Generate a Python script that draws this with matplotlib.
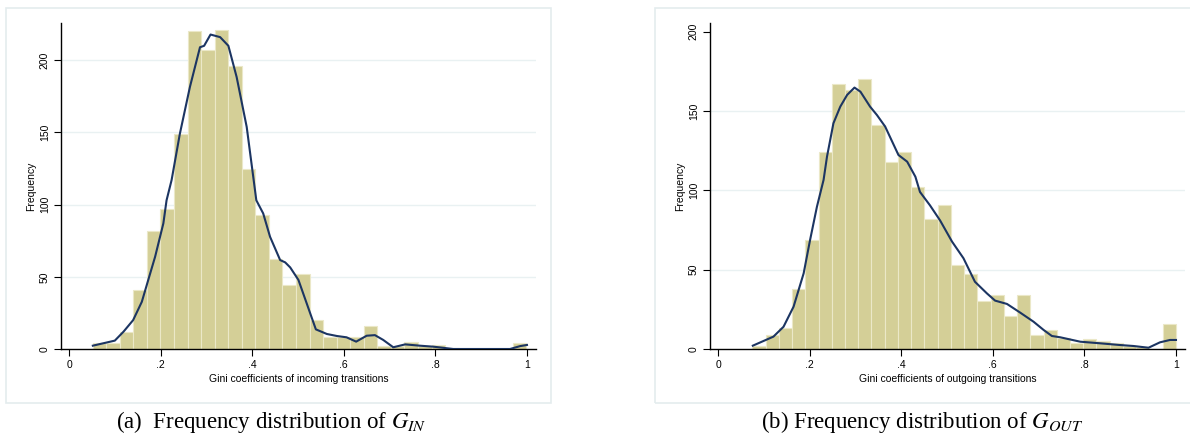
import matplotlib
matplotlib.use("Agg")
import matplotlib.pyplot as plt
from matplotlib.patches import Rectangle
import numpy as np

plt.rcParams['font.family'] = ['Liberation Sans', 'DejaVu Sans']
plt.rcParams['mathtext.fontset'] = 'stix'

# histogram of Gini coefficients, incoming transitions (32 equal bins)
in_bin_start = 0.0516
in_bin_width = 0.0296
in_counts = [4, 4, 12, 41, 82, 97, 149, 220, 207, 221, 196, 125,
             93, 62, 44, 52, 20, 8, 8, 8, 16, 2, 2, 5, 2, 3, 1,
             0, 0, 0, 0, 4]

# kernel density overlay (scaled to frequency)
in_kde_x = [0.052, 0.100, 0.119, 0.140, 0.159, 0.173, 0.188, 0.206, 0.213,
            0.224, 0.242, 0.264, 0.286, 0.295, 0.309, 0.330, 0.348, 0.366,
            0.388, 0.409, 0.424, 0.439, 0.461, 0.472, 0.483, 0.501, 0.519,
            0.539, 0.563, 0.585, 0.606, 0.627, 0.650, 0.668, 0.686, 0.708,
            0.734, 0.766, 0.796, 0.839, 0.963, 0.985, 1.0]
in_kde_y = [2.3, 5.8, 12, 20, 32.7, 47.8, 63.9, 87, 103, 117, 149, 181.5,
            209, 210, 217.8, 216, 210, 188.4, 153.8, 103, 93.9, 77.7, 61.6,
            60, 56.5, 47.8, 31.6, 13.6, 10.4, 9, 8.1, 5.1, 9.2, 9.6, 6.3,
            1.2, 3.2, 2.3, 1.6, 0, 0, 2, 2.8]

# histogram of Gini coefficients, outgoing transitions
out_bin_start = 0.075
out_bin_width = 0.0289
out_counts = [2, 9, 13, 38, 69, 124, 167, 163, 170, 141, 118, 124,
              102, 82, 91, 53, 47, 30, 34, 21, 34, 9, 12, 7, 4, 6, 5,
              4, 2, 1, 0, 16]

out_kde_x = [0.076, 0.121, 0.143, 0.165, 0.187, 0.201, 0.216, 0.2305,
             0.238, 0.252, 0.267, 0.282, 0.298, 0.311, 0.332, 0.347, 0.365,
             0.394, 0.413, 0.431, 0.441, 0.463, 0.485, 0.511, 0.536, 0.561,
             0.587, 0.605, 0.631, 0.660, 0.689, 0.711, 0.729, 0.747, 0.791,
             0.834, 0.878, 0.907, 0.940, 0.965, 0.987, 1.0]
out_kde_y = [2.1, 7.8, 14, 26.7, 47.7, 68.7, 89.7, 106.6, 121.3, 142.3,
             152.8, 160.2, 164.8, 162.2, 152.8, 147.5, 140.2, 122.3, 118.1,
             108.6, 99, 90.5, 81, 67.7, 57.2, 42.4, 35.1, 30.5, 28.4, 22.9,
             17.2, 12, 8.2, 7.4, 4.6, 3.6, 2.5, 1.9, 0.8, 4.2, 5.7, 5.7]

x_ticks = [0, 0.2, 0.4, 0.6, 0.8, 1.0]
x_tick_labels = ['0', '.2', '.4', '.6', '.8', '1']
y_ticks = [0, 50, 100, 150, 200]

bar_color = '#d4cf97'
bar_edge = '#ebe8c8'
line_color = '#1c3562'
grid_color = '#e9f1f2'
frame_color = '#e4ecee'

fig = plt.figure(figsize=(11.9, 4.44), dpi=100)

# light frames around each sub-graph
for x0, x1 in [(6, 551), (655, 1195)]:
    fig.patches.append(Rectangle((x0 / 1190, 41 / 444), (x1 - x0) / 1190, 395 / 444,
                                 transform=fig.transFigure, fill=False,
                                 edgecolor=frame_color, linewidth=1.2))


def draw_panel(ax, start, width, counts, kx, ky, ymax, grid_vals, xlabel):
    edges = start + width * np.arange(len(counts))
    ax.bar(edges, counts, width=width, align='edge', color=bar_color,
           edgecolor=bar_edge, linewidth=0.8, zorder=2)
    ax.plot(kx, ky, color=line_color, linewidth=1.5, zorder=3)
    for g in grid_vals:
        ax.axhline(g, color=grid_color, linewidth=1.0, zorder=1)
    ax.set_xlim(-0.0175, 1.0197)
    ax.set_ylim(0, ymax)
    ax.set_xticks(x_ticks)
    ax.set_xticklabels(x_tick_labels)
    ax.set_yticks(y_ticks)
    ax.set_yticklabels([str(v) for v in y_ticks], rotation=90, va='center')
    ax.tick_params(direction='out', length=5, width=0.8, labelsize=7.5,
                   color='black', pad=3)
    for s in ['top', 'right']:
        ax.spines[s].set_visible(False)
    for s in ['left', 'bottom']:
        ax.spines[s].set_linewidth(1.0)
    ax.set_xlabel(xlabel, fontsize=7.5, labelpad=3)
    ax.set_ylabel('Frequency', fontsize=7.5, labelpad=3)


ax1 = fig.add_axes([61 / 1190, 95 / 444, 475 / 1190, 326.3 / 444])
draw_panel(ax1, in_bin_start, in_bin_width, in_counts, in_kde_x, in_kde_y,
           226, [50, 100, 150, 200], 'Gini coefficients of incoming transitions')

ax2 = fig.add_axes([710 / 1190, 95 / 444, 475 / 1190, 326.3 / 444])
draw_panel(ax2, out_bin_start, out_bin_width, out_counts, out_kde_x, out_kde_y,
           205.7, [50, 100, 150], 'Gini coefficients of outgoing transitions')

fig.text(271 / 1190, 22 / 444, r'(a)  Frequency distribution of $G_{IN}$',
         ha='center', va='center', fontsize=16.5, family='Liberation Serif')
fig.text(922 / 1190, 22 / 444, r'(b) Frequency distribution of $G_{OUT}$',
         ha='center', va='center', fontsize=16.5, family='Liberation Serif')

fig.savefig('out.png', dpi=100)
